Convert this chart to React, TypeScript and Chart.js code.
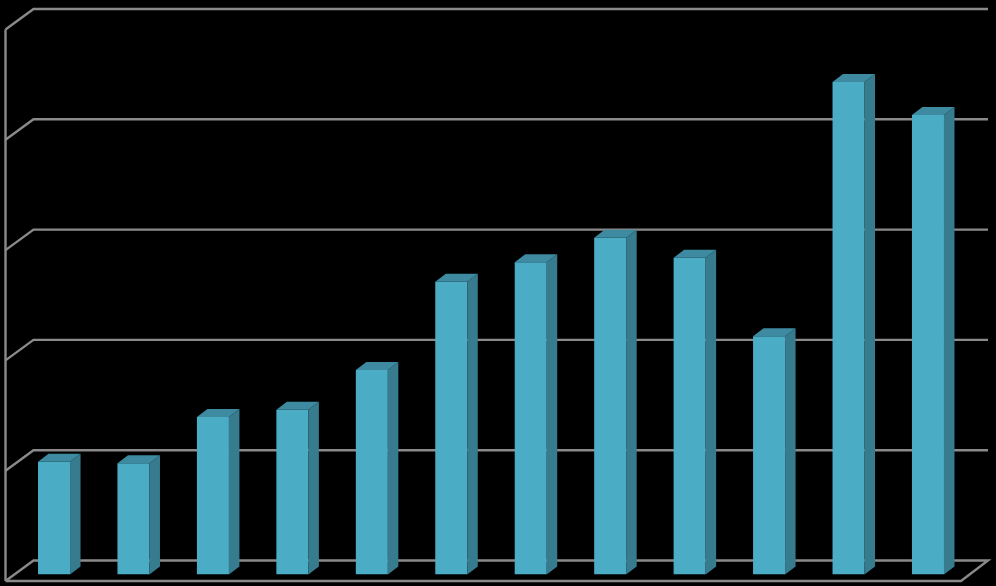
import { useEffect, useRef } from "react";
import { Chart, registerables } from "chart.js";

Chart.register(...registerables);

const categories = ["1", "2", "3", "4", "5", "6", "7", "8", "9", "10", "11", "12"];
const values = [10.23, 10.08, 14.28, 14.94, 18.54, 26.55, 28.3, 30.53, 28.72, 21.6, 44.65, 41.66];
const yTicks = [0, 10, 20, 30, 40, 50];

const FRONT = "#4BACC6";
const SIDE = "#367B8E";
const TOP = "#3E8BA1";
const GRID = "#8A8A8A";

const DEPTH_X = 10.5;
const DEPTH_Y = 8;

const walls = {
  id: "walls3d",
  beforeDatasetsDraw(chart: any) {
    const { ctx, scales } = chart;
    const y = scales.y;
    const left = 5.5;
    const floorRight = 961;
    const backLeft = 33.5;
    const backRight = 988;
    const backDy = -14;
    const wallDy = 6.5;
    ctx.save();
    ctx.strokeStyle = GRID;
    ctx.lineWidth = 2.4;
    ctx.lineJoin = "miter";
    ctx.lineCap = "butt";
    for (const t of yTicks) {
      const py = y.getPixelForValue(t);
      ctx.beginPath();
      ctx.moveTo(left, py + wallDy);
      ctx.lineTo(backLeft, py + backDy);
      ctx.lineTo(backRight, py + backDy);
      if (t === 0) {
        ctx.lineTo(floorRight, py + wallDy);
        ctx.lineTo(left, py + wallDy);
      }
      ctx.stroke();
    }
    ctx.beginPath();
    ctx.moveTo(left, y.getPixelForValue(yTicks[yTicks.length - 1]) + wallDy);
    ctx.lineTo(left, y.getPixelForValue(0) + wallDy);
    ctx.stroke();
    ctx.restore();
  },
};

const bars3d = {
  id: "bars3d",
  afterDatasetsDraw(chart: any) {
    const { ctx } = chart;
    const meta = chart.getDatasetMeta(0);
    ctx.save();
    for (const el of meta.data) {
      const p = el.getProps(["x", "y", "base", "width"], true);
      const l = p.x - p.width / 2;
      const r = p.x + p.width / 2;
      ctx.fillStyle = SIDE;
      ctx.beginPath();
      ctx.moveTo(r, p.y);
      ctx.lineTo(r + DEPTH_X, p.y - DEPTH_Y);
      ctx.lineTo(r + DEPTH_X, p.base - DEPTH_Y);
      ctx.lineTo(r, p.base);
      ctx.closePath();
      ctx.fill();
      ctx.fillStyle = TOP;
      ctx.beginPath();
      ctx.moveTo(l, p.y);
      ctx.lineTo(l + DEPTH_X, p.y - DEPTH_Y);
      ctx.lineTo(r + DEPTH_X, p.y - DEPTH_Y);
      ctx.lineTo(r, p.y);
      ctx.closePath();
      ctx.fill();
    }
    ctx.restore();
  },
};

export default function App() {
  const ref = useRef<HTMLCanvasElement | null>(null);
  useEffect(() => {
    const chart = new Chart(ref.current as HTMLCanvasElement, {
      type: "bar",
      data: {
        labels: categories,
        datasets: [
          {
            data: values,
            backgroundColor: FRONT,
            borderWidth: 0,
            categoryPercentage: 1,
            barPercentage: 0.403,
          },
        ],
      },
      options: {
        responsive: false,
        animation: false,
        layout: { padding: { left: 14.3, right: 28.3, top: 23, bottom: 11.5 } },
        plugins: { legend: { display: false }, tooltip: { enabled: false } },
        scales: {
          x: { display: false },
          y: { display: false, min: 0, max: 50 },
        },
      },
      plugins: [walls, bars3d],
    });
    return () => chart.destroy();
  }, []);
  return (
    <div style={{ position: "fixed", left: 0, top: 0, width: 996, height: 586, background: "#000" }}>
      <canvas ref={ref} width={996} height={586} style={{ display: "block" }} />
    </div>
  );
}
